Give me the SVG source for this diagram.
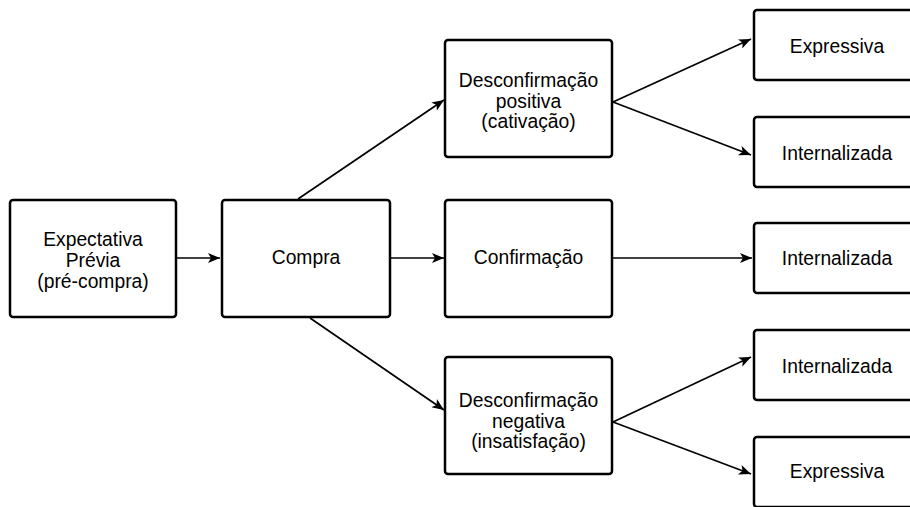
<svg xmlns="http://www.w3.org/2000/svg" width="910" height="507" viewBox="0 0 910 507">
<style>
.box{fill:#fff;stroke:#000;stroke-width:2.5}
.t{font-family:"Liberation Sans",Arial,sans-serif;font-size:19.3px;fill:#000;text-anchor:middle}
.c{stroke:#000;stroke-width:1.7;fill:none;marker-end:url(#ah)}
</style>
<defs>
<marker id="ah" viewBox="0 0 12 10" refX="12" refY="5" markerWidth="13" markerHeight="10" markerUnits="userSpaceOnUse" orient="auto">
<path d="M0,0 L12,5 L0,10 L3,5 Z" fill="#000"/>
</marker>
</defs>
<g id="connectors">
<line class="c" x1="177" y1="258" x2="220" y2="258"/>
<line class="c" x1="391" y1="258" x2="444" y2="258"/>
<line class="c" x1="613" y1="258" x2="752" y2="258"/>
<line class="c" x1="298" y1="199" x2="444" y2="100"/>
<line class="c" x1="310" y1="318" x2="444" y2="410"/>
<line class="c" x1="613" y1="102" x2="751" y2="39"/>
<line class="c" x1="613" y1="102" x2="751" y2="155"/>
<line class="c" x1="613" y1="422" x2="751" y2="357"/>
<line class="c" x1="613" y1="422" x2="751" y2="474"/>
</g>
<g id="n-expectativa">
<rect class="box" x="10" y="200" width="166" height="117" rx="3"/>
<text class="t" x="93" y="246">Expectativa</text>
<text class="t" x="93" y="267">Prévia</text>
<text class="t" x="93" y="288">(pré-compra)</text>
</g>
<g id="n-compra">
<rect class="box" x="222" y="200" width="168" height="117" rx="3"/>
<text class="t" x="306" y="264">Compra</text>
</g>
<g id="n-positiva">
<rect class="box" x="445" y="40" width="167" height="117" rx="3"/>
<text class="t" x="528.5" y="87">Desconfirmação</text>
<text class="t" x="528.5" y="107.5">positiva</text>
<text class="t" x="528.5" y="128">(cativação)</text>
</g>
<g id="n-confirmacao">
<rect class="box" x="445" y="200" width="167" height="117" rx="3"/>
<text class="t" x="528.5" y="264">Confirmação</text>
</g>
<g id="n-negativa">
<rect class="box" x="445" y="357" width="167" height="117" rx="3"/>
<text class="t" x="528.5" y="407">Desconfirmação</text>
<text class="t" x="528.5" y="427.5">negativa</text>
<text class="t" x="528.5" y="448">(insatisfação)</text>
</g>
<g id="n-expressiva1">
<rect class="box" x="754" y="10" width="166" height="70" rx="3"/>
<text class="t" x="837" y="52.5">Expressiva</text>
</g>
<g id="n-internalizada1">
<rect class="box" x="754" y="117" width="166" height="70" rx="3"/>
<text class="t" x="837" y="160">Internalizada</text>
</g>
<g id="n-internalizada2">
<rect class="box" x="754" y="223" width="166" height="70" rx="3"/>
<text class="t" x="837" y="265">Internalizada</text>
</g>
<g id="n-internalizada3">
<rect class="box" x="754" y="330" width="166" height="70" rx="3"/>
<text class="t" x="837" y="372.5">Internalizada</text>
</g>
<g id="n-expressiva2">
<rect class="box" x="754" y="437" width="166" height="70" rx="3"/>
<text class="t" x="837" y="478">Expressiva</text>
</g>
</svg>
